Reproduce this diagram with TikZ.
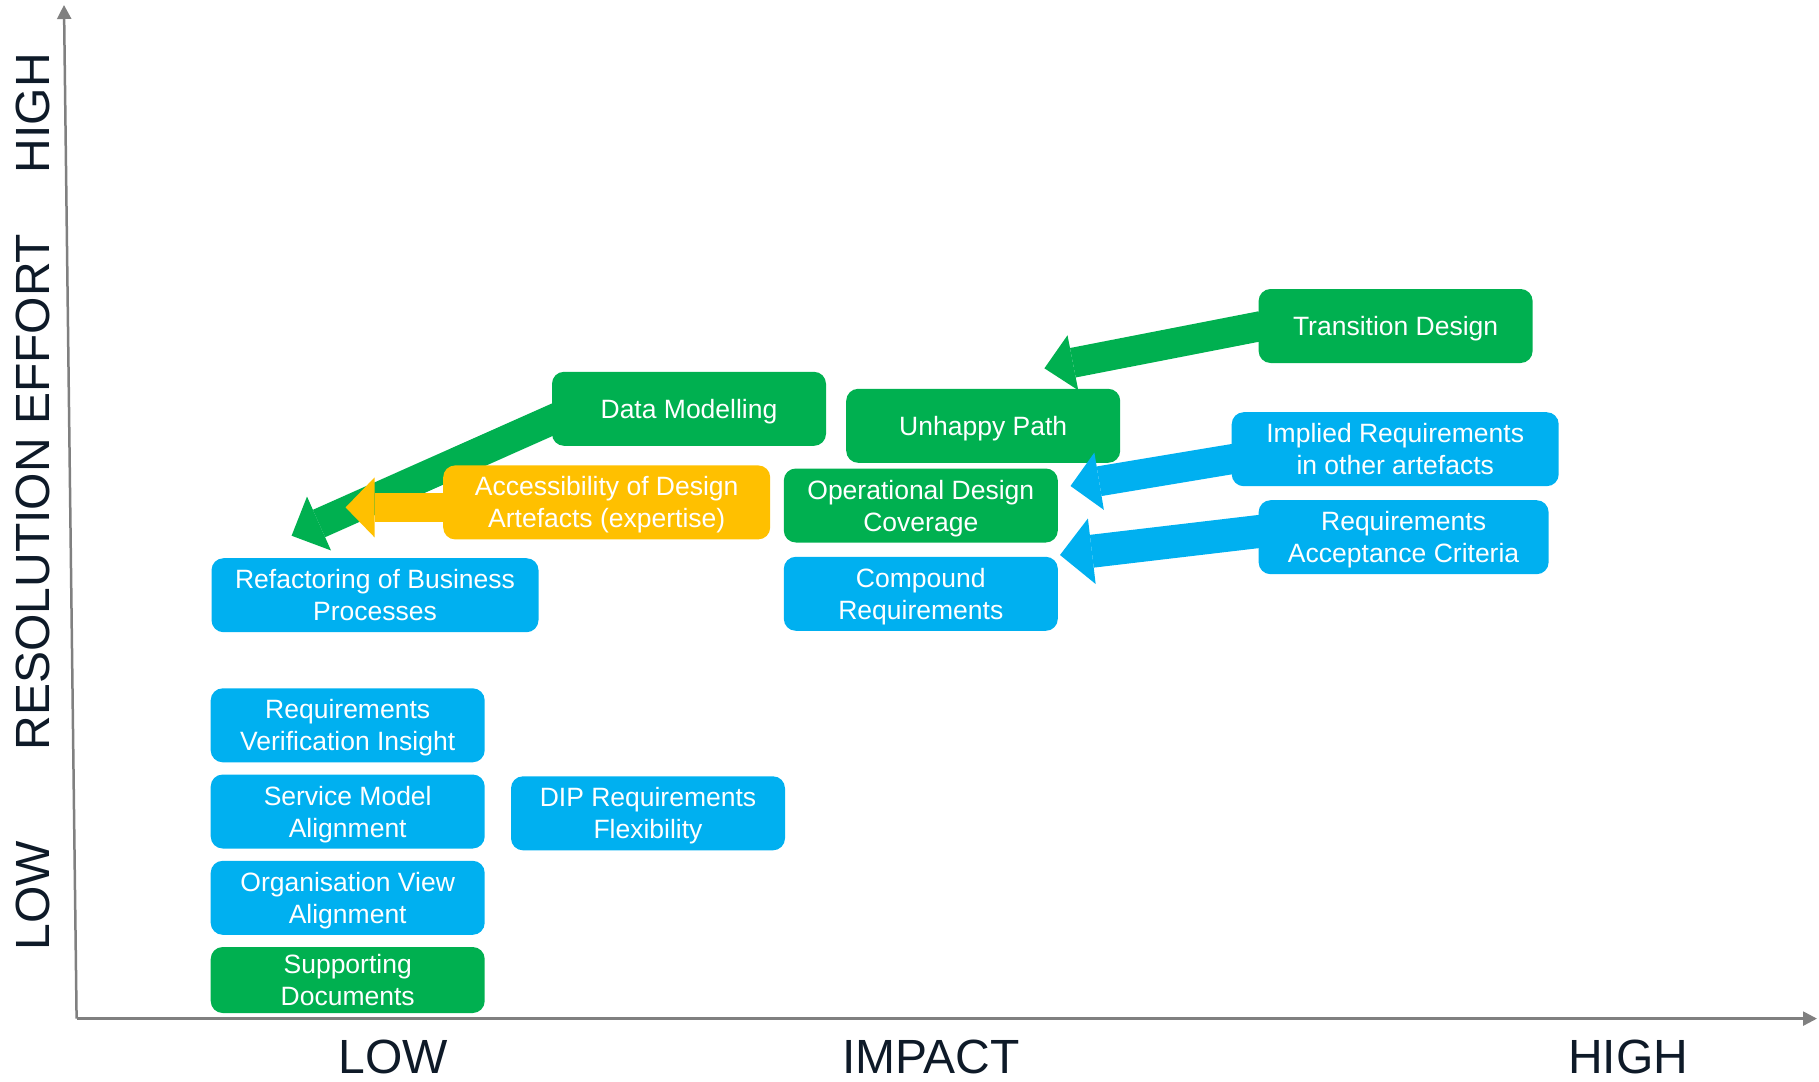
\documentclass[tikz,border=0pt]{standalone}
\usepackage{fontspec}
\setmainfont{Liberation Sans}
\usetikzlibrary{arrows.meta}

\definecolor{boxgreen}{RGB}{0,176,80}
\definecolor{boxblue}{RGB}{0,176,240}
\definecolor{boxgold}{RGB}{255,192,0}
\definecolor{axisgray}{RGB}{128,128,128}
\definecolor{labelnavy}{RGB}{14,26,40}

\tikzset{
  item/.style={rectangle, rounded corners=12pt, minimum width=274pt, minimum height=74pt,
    inner sep=0pt, align=center, text=white, font=\fontsize{26.5}{32}\selectfont,
    text height=19pt, text depth=0pt},
  twoline/.style={text height=51pt},
  greenbox/.style={item, fill=boxgreen},
  bluebox/.style={item, fill=boxblue},
  goldbox/.style={item, fill=boxgold},
  axislabel/.style={text=labelnavy, inner sep=0pt, font=\fontsize{48}{56}\selectfont},
  axisline/.style={axisgray, line width=2.5pt, -{Triangle[length=14pt, width=14pt]}},
  blockarrow/.style n args={3}{line width=#1pt, -{Triangle[length=#2pt, width=#3pt, line width=0pt]}},
}

\begin{document}
\begin{tikzpicture}[x=1pt, y=-1pt]
    \useasboundingbox (0,0) rectangle (1819,1081);

    % Axes
    \coordinate (origin) at (76.6,1018.6);
    \coordinate (ytop) at (64,5);
    \coordinate (xtip) at (1817,1018.6);
    \draw[axisline] (origin) -- (ytop);
    \draw[axisline] (origin) -- (xtip);

    \node[axislabel, rotate=90] (yhigh) at (32.5,113) {HIGH};
    \node[axislabel, rotate=90] (yname) at (32.5,492) {RESOLUTION EFFORT};
    \node[axislabel, rotate=90] (ylow) at (32.5,896) {LOW};
    \node[axislabel] (xlow) at (393,1057) {LOW};
    \node[axislabel] (xname) at (931,1057) {IMPACT};
    \node[axislabel] (xhigh) at (1628,1057) {HIGH};

    % Left group
    \node[greenbox] (dm) at (689,408.8) {Data Modelling};
    \node[bluebox, twoline, minimum width=327pt] (rb) at (375,595.2) {Refactoring of Business\\Processes};
    \coordinate (tipD) at (291.6,535.7);
    \draw[blockarrow={30}{30}{59}, boxgreen] ([xshift=7pt,yshift=-8pt]dm.west) -- (tipD);

    \node[goldbox, twoline, minimum width=327pt] (ac) at (606.7,502.4) {Accessibility of Design\\Artefacts (expertise)};
    \coordinate (tipE) at (345.6,507.4);
    \draw[blockarrow={29}{29}{60}, boxgold] ([yshift=-5pt]ac.west) -- (tipE);

    % Middle and right group
    \node[greenbox] (up) at (983.2,425.8) {Unhappy Path};
    \node[greenbox] (td) at (1395.6,326) {Transition Design};
    \coordinate (tipA) at (1044.4,368.3);
    \draw[blockarrow={30}{29}{56}, boxgreen] ([xshift=3pt]td.west) -- (tipA);

    \node[greenbox, twoline] (od) at (920.8,505.5) {Operational Design\\Coverage};
    \node[bluebox, twoline, minimum width=327pt] (ir) at (1395.2,449.2) {Implied Requirements\\in other artefacts};
    \coordinate (tipB) at (1070.5,486);
    \draw[blockarrow={30}{29}{58}, boxblue] ([xshift=3pt,yshift=-9.5pt]ir.west) -- (tipB);

    \node[bluebox, twoline] (cr) at (920.8,593.8) {Compound\\Requirements};
    \node[bluebox, twoline, minimum width=290pt] (ra) at (1403.6,537.2) {Requirements\\Acceptance Criteria};
    \coordinate (tipC) at (1060,555);
    \draw[blockarrow={33}{32}{66}, boxblue] ([xshift=3pt,yshift=6pt]ra.west) -- (tipC);

    % Lower group
    \node[bluebox, twoline] (rv) at (347.7,725.3) {Requirements\\Verification Insight};
    \node[bluebox, twoline] (sm) at (347.7,811.5) {Service Model\\Alignment};
    \node[bluebox, twoline] (dip) at (648,813.3) {DIP Requirements\\Flexibility};
    \node[bluebox, twoline] (ov) at (347.7,897.8) {Organisation View\\Alignment};
    \node[greenbox, twoline, minimum height=66pt] (sd) at (347.7,980) {Supporting\\Documents};
\end{tikzpicture}
\end{document}
